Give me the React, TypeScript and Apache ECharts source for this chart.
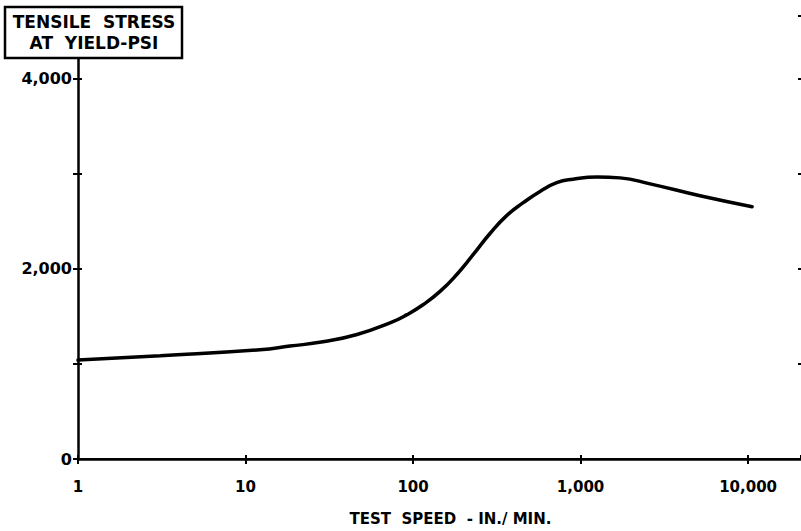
import React, { useEffect, useRef } from "react";
import * as echarts from "echarts";

const speeds = [1, 3.1, 12.2, 18.4, 29, 46.3, 72.9, 92.1, 114.7, 145, 183, 229, 288, 362, 455, 573, 721, 900, 1256, 1721, 2600, 5165, 10570];
const stress = [1040, 1086, 1149, 1187, 1232, 1309, 1431, 1518, 1622, 1762, 1943, 2151, 2371, 2559, 2695, 2813, 2905, 2942, 2966, 2956, 2893, 2768, 2653];
const yTicks = [0, 2000, 4000];
const xTickLabels: Record<number, string> = { 1: "1", 10: "10", 100: "100", 1000: "1,000", 10000: "10,000" };
const titleLines = ["TENSILE  STRESS", "AT  YIELD-PSI"];
const xName = "TEST  SPEED  - IN./ MIN.";

const FONT = "DejaVu Sans";

export default function App() {
  const ref = useRef<HTMLDivElement>(null);
  useEffect(() => {
    if (!ref.current) return;
    const chart = echarts.init(ref.current, null, { renderer: "svg" });
    const data = speeds.map((s, i) => [s, stress[i]]);
    const baseX = { type: "log", logBase: 10, min: 1, max: 20700, splitLine: { show: false }, minorTick: { show: false } };
    chart.setOption({
      animation: false,
      backgroundColor: "#fff",
      grid: { left: 78, right: 0, top: 16, bottom: 69, containLabel: false },
      xAxis: [
        {
          ...baseX,
          name: xName,
          nameLocation: "middle",
          nameGap: 52,
          nameTextStyle: { fontFamily: FONT, fontSize: 15, fontWeight: "bold", color: "#000", padding: [0, 0, 0, 22] },
          axisLine: { show: true, lineStyle: { color: "#000", width: 2.5 } },
          axisTick: { show: true, inside: false, length: 5, lineStyle: { color: "#000", width: 2 } },
          axisLabel: {
            show: true,
            margin: 20,
            showMaxLabel: false,
            fontFamily: FONT,
            fontSize: 15,
            fontWeight: "bold",
            color: "#000",
            formatter: (v: number) => xTickLabels[Math.round(v)] ?? "",
          },
        },
        {
          ...baseX,
          position: "top",
          axisLine: { show: true, lineStyle: { color: "#000", width: 2 } },
          axisTick: { show: false },
          axisLabel: { show: false },
        },
        {
          ...baseX,
          position: "bottom",
          offset: 0,
          axisLine: { show: false },
          axisTick: { show: true, inside: true, length: 4, lineStyle: { color: "#000", width: 2 } },
          axisLabel: { show: false },
        },
      ],
      yAxis: [
        {
          type: "value",
          min: 0,
          max: 4658,
          interval: 1000,
          axisLine: { show: true, lineStyle: { color: "#000", width: 2.5 } },
          axisTick: { show: true, inside: false, length: 5, lineStyle: { color: "#000", width: 2 } },
          axisLabel: {
            show: true,
            margin: 6,
            showMaxLabel: false,
            fontFamily: FONT,
            fontSize: 16,
            fontWeight: "bold",
            color: "#000",
            formatter: (v: number) => (yTicks.includes(v) ? v.toLocaleString("en-US") : ""),
          },
          splitLine: { show: false },
        },
        {
          type: "value",
          min: 0,
          max: 4658,
          interval: 1000,
          position: "left",
          offset: 0,
          axisLine: { show: false },
          axisTick: { show: true, inside: true, length: 4, lineStyle: { color: "#000", width: 2 } },
          axisLabel: { show: false },
          splitLine: { show: false },
        },
        {
          type: "value",
          min: 0,
          max: 4658,
          interval: 1000,
          position: "right",
          axisLine: { show: false },
          axisTick: { show: true, inside: true, length: 3, lineStyle: { color: "#000", width: 2 } },
          axisLabel: { show: false },
          splitLine: { show: false },
        },
      ],
      series: [
        {
          type: "line",
          data,
          smooth: 0.5,
          showSymbol: false,
          lineStyle: { color: "#000", width: 3.5, cap: "round" },
          z: 5,
        },
      ],
      graphic: [
        {
          type: "rect",
          z: 100,
          shape: { x: 5, y: 7, width: 177, height: 51 },
          style: { fill: "#fff", stroke: "#000", lineWidth: 2.5 },
        },
        {
          type: "text",
          z: 101,
          x: 94,
          y: 22,
          style: {
            text: titleLines[0],
            fontFamily: FONT,
            fontSize: 17,
            fontWeight: "bold",
            fill: "#000",
            align: "center",
            verticalAlign: "middle",
          },
        },
        {
          type: "text",
          z: 101,
          x: 94,
          y: 43,
          style: {
            text: titleLines[1],
            fontFamily: FONT,
            fontSize: 17,
            fontWeight: "bold",
            fill: "#000",
            align: "center",
            verticalAlign: "middle",
          },
        },
      ],
    });
    return () => chart.dispose();
  }, []);
  return <div ref={ref} style={{ width: 801, height: 531, position: "fixed", left: 0, top: 0 }} />;
}
